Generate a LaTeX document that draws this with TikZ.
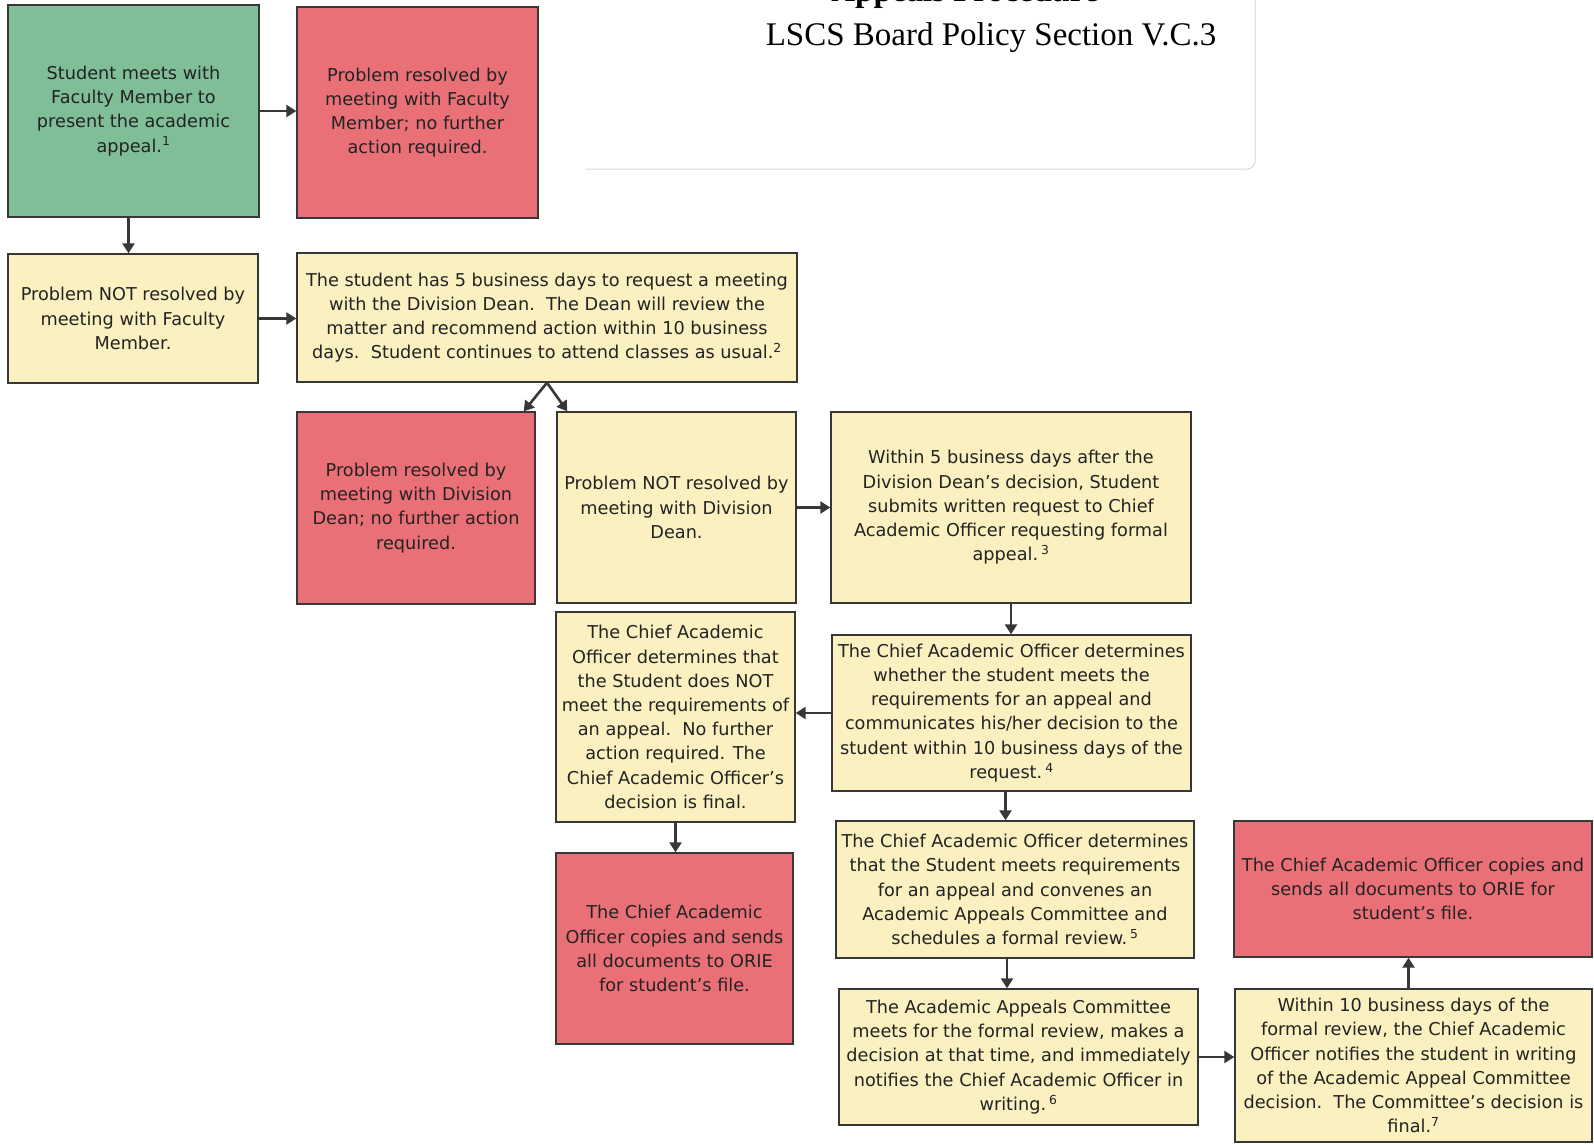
\documentclass[tikz,border=0pt]{standalone}
\usepackage{fontspec}
\setmainfont{DejaVu Sans}
\newfontfamily\titlefont{Liberation Serif}
\usetikzlibrary{arrows.meta}

\definecolor{boxgreen}{RGB}{128,190,152}
\definecolor{boxred}{RGB}{234,112,120}
\definecolor{boxyellow}{RGB}{250,240,192}
\definecolor{boxline}{RGB}{55,55,55}
\definecolor{boxtext}{RGB}{35,35,35}

\tikzset{
  stepbox/.style={draw=boxline, line width=1.4pt, fill=boxyellow, text=boxtext,
    align=center, inner sep=0pt,
    font=\fontsize{17.7}{24.2}\selectfont},
  startbox/.style={stepbox, fill=boxgreen},
  endbox/.style={stepbox, fill=boxred},
  arr/.style={draw=boxline, line width=2.6pt, -{Triangle[length=10pt,width=12pt]}}
}

\begin{document}
\begin{tikzpicture}[x=1pt, y=-1pt]
  \useasboundingbox (0,0) rectangle (1594,1144);

  % title
  \draw[gray!30, line width=1pt, rounded corners=8pt] (585,169) -- (1255,169) -- (1255,-5);
  \node[anchor=base, font=\titlefont\bfseries\fontsize{33}{38}\selectfont] (heading) at (965,1) {Appeals Procedure};
  \node[anchor=base, font=\titlefont\fontsize{33}{38}\selectfont] (policy) at (991,45) {LSCS Board Policy Section V.C.3};

  % boxes
  \node[startbox, minimum width=251pt, minimum height=212pt] (meet) at (133.5,111)
    {Student meets with\\Faculty Member to\\present the academic\\appeal.\textsuperscript{1}};
  \node[endbox, minimum width=241pt, minimum height=211pt] (facok) at (417.5,112.5)
    {Problem resolved by\\meeting with Faculty\\Member; no further\\action required.};
  \node[stepbox, minimum width=250pt, minimum height=129pt] (facnot) at (133,318.5)
    {Problem NOT resolved by\\meeting with Faculty\\Member.};
  \node[stepbox, minimum width=500pt, minimum height=129pt] (dean) at (547,317.5)
    {The student has 5 business days to request a meeting\\with the Division Dean.\ \ The Dean will review the\\matter and recommend action within 10 business\\days.\ \ Student continues to attend classes as usual.\textsuperscript{2}};
  \node[endbox, minimum width=238pt, minimum height=192pt] (deanok) at (416,508)
    {Problem resolved by\\meeting with Division\\Dean; no further action\\required.};
  \node[stepbox, minimum width=239pt, minimum height=191pt] (deannot) at (676.5,507.5)
    {Problem NOT resolved by\\meeting with Division\\Dean.};
  \node[stepbox, minimum width=360pt, minimum height=191pt] (request) at (1011,507.5)
    {Within 5 business days after the\\Division Dean's decision, Student\\submits written request to Chief\\Academic Officer requesting formal\\appeal.\,\textsuperscript{3}};
  \node[stepbox, minimum width=239pt, minimum height=210pt] (caonot) at (675.5,717)
    {The Chief Academic\\Officer determines that\\the Student does NOT\\meet the requirements of\\an appeal.\ \ No further\\action required. The\\Chief Academic Officer's\\decision is final.};
  \node[stepbox, minimum width=359pt, minimum height=156pt] (caocheck) at (1011.5,713)
    {The Chief Academic Officer determines\\whether the student meets the\\requirements for an appeal and\\communicates his/her decision to the\\student within 10 business days of the\\request.\,\textsuperscript{4}};
  \node[endbox, minimum width=237pt, minimum height=191pt] (filenot) at (674.5,948.5)
    {The Chief Academic\\Officer copies and sends\\all documents to ORIE\\for student's file.};
  \node[stepbox, minimum width=358pt, minimum height=137pt] (caoyes) at (1015,889.5)
    {The Chief Academic Officer determines\\that the Student meets requirements\\for an appeal and convenes an\\Academic Appeals Committee and\\schedules a formal review.\,\textsuperscript{5}};
  \node[stepbox, minimum width=359pt, minimum height=136pt] (committee) at (1018.5,1057)
    {The Academic Appeals Committee\\meets for the formal review, makes a\\decision at that time, and immediately\\notifies the Chief Academic Officer in\\writing.\,\textsuperscript{6}};
  \node[endbox, minimum width=358pt, minimum height=136pt] (fileyes) at (1413,889)
    {The Chief Academic Officer copies and\\sends all documents to ORIE for\\student's file.};
  \node[stepbox, minimum width=357pt, minimum height=153pt] (notify) at (1413.5,1065.5)
    {Within 10 business days of the\\formal review, the Chief Academic\\Officer notifies the student in writing\\of the Academic Appeal Committee\\decision.\ \ The Committee's decision is\\final.\textsuperscript{7}};

  % connectors
  \draw[arr] (meet.east) -- (meet.east -| facok.west);
  \draw[arr] ([xshift=-5pt]meet.south) -- ([xshift=-5pt]meet.south |- facnot.north);
  \draw[arr] (facnot.east) -- (facnot.east -| dean.west);
  \draw[arr] (dean.south) -- ([xshift=-12pt]deanok.north east);
  \draw[arr] (dean.south) -- ([xshift=11pt]deannot.north west);
  \draw[arr] (deannot.east) -- (deannot.east -| request.west);
  \draw[arr] (request.south) -- (request.south |- caocheck.north);
  \draw[arr] (caocheck.west) -- (caocheck.west -| caonot.east);
  \draw[arr] (caonot.south) -- (caonot.south |- filenot.north);
  \draw[arr] ([xshift=-6pt]caocheck.south) -- ([xshift=-6pt]caocheck.south |- caoyes.north);
  \draw[arr] ([xshift=-8pt]caoyes.south) -- ([xshift=-8pt]caoyes.south |- committee.north);
  \draw[arr] (committee.east) -- (committee.east -| notify.west);
  \draw[arr] ([xshift=-5pt]notify.north) -- ([xshift=-5pt]notify.north |- fileyes.south);
\end{tikzpicture}
\end{document}
